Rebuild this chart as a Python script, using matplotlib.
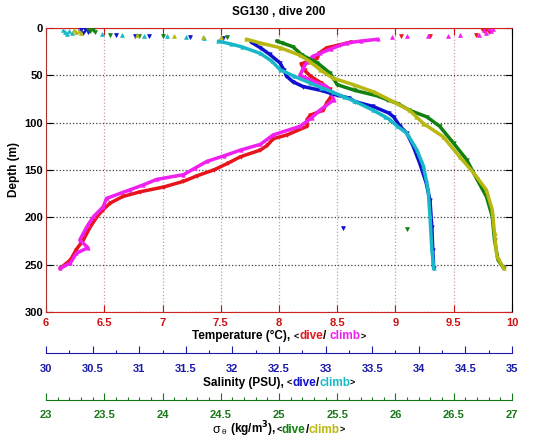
import matplotlib
matplotlib.use("Agg")
import matplotlib.pyplot as plt
from matplotlib.ticker import MultipleLocator
from matplotlib.offsetbox import TextArea, HPacker, AnchoredOffsetbox

plt.rcParams['font.family'] = ['Liberation Sans', 'DejaVu Sans']
plt.rcParams['font.weight'] = 'bold'
plt.rcParams['axes.titleweight'] = 'bold'
plt.rcParams['axes.labelweight'] = 'bold'

# temperature (degC) - dive / climb
temp_dive_depth = [15, 18, 21, 27, 32, 38, 45, 51, 58, 65, 72, 79, 87, 92, 97, 104, 113, 117, 124, 129,
                   136, 143, 150, 156, 162, 168, 173, 178, 185, 192, 199, 210, 224, 234, 245, 254]
temp_dive = [8.62, 8.52, 8.41, 8.34, 8.33, 8.19, 8.22, 8.27, 8.36, 8.44, 8.45, 8.41, 8.38, 8.27, 8.24, 8.24,
             8.07, 7.95, 7.9, 7.84, 7.67, 7.56, 7.44, 7.3, 7.18, 7.01, 6.81, 6.66, 6.55, 6.49, 6.44, 6.38,
             6.32, 6.26, 6.21, 6.12]
temp_climb_depth = [12, 14, 16, 22, 27, 30, 36, 42, 50, 55, 62, 69, 76, 87, 95, 104, 113, 123, 129, 135,
                    141, 148, 155, 160, 166, 171, 180, 189, 199, 208, 217, 224, 232, 238, 248, 254]
temp_climb = [8.85, 8.7, 8.58, 8.45, 8.35, 8.29, 8.24, 8.21, 8.18, 8.27, 8.41, 8.45, 8.47, 8.35, 8.28, 8.18,
              7.95, 7.84, 7.67, 7.53, 7.38, 7.28, 7.18, 6.95, 6.83, 6.72, 6.52, 6.49, 6.41, 6.36, 6.32, 6.29,
              6.36, 6.26, 6.21, 6.12]

# salinity (PSU)
sal_dive_depth = [15, 21, 28, 37, 44, 51, 57, 62, 66, 71, 74, 78, 83, 90, 94, 104, 111, 125, 143, 164,
                  182, 210, 234, 254]
sal_dive = [32.2, 32.3, 32.4, 32.51, 32.55, 32.58, 32.65, 32.76, 32.95, 33.12, 33.25, 33.32, 33.51, 33.68,
            33.73, 33.8, 33.87, 33.94, 34.01, 34.08, 34.12, 34.14, 34.15, 34.16]
sal_climb_depth = [14, 17, 20, 27, 35, 44, 51, 58, 63, 68, 73, 77, 87, 94, 97, 104, 111, 129, 146, 171,
                   199, 234, 254]
sal_climb = [31.85, 31.98, 32.1, 32.3, 32.42, 32.51, 32.66, 32.83, 32.95, 33.08, 33.2, 33.3, 33.51, 33.64,
             33.69, 33.77, 33.87, 33.98, 34.05, 34.1, 34.12, 34.14, 34.16]

# sigma theta (kg/m3)
sig_dive_depth = [14, 16, 20, 29, 37, 48, 60, 66, 72, 76, 80, 87, 94, 104, 122, 139, 160, 178, 199, 224,
                  245, 254]
sig_dive = [24.98, 25.03, 25.12, 25.2, 25.33, 25.44, 25.5, 25.65, 25.85, 25.93, 26.02, 26.12, 26.27, 26.38,
            26.5, 26.61, 26.7, 26.78, 26.83, 26.85, 26.88, 26.93]
sig_climb_depth = [12, 16, 21, 29, 36, 44, 53, 60, 68, 76, 87, 94, 101, 115, 136, 153, 171, 192, 217, 241, 254]
sig_climb = [24.72, 24.84, 25.01, 25.18, 25.27, 25.35, 25.46, 25.64, 25.82, 25.95, 26.12, 26.18, 26.24,
             26.41, 26.55, 26.67, 26.78, 26.83, 26.85, 26.87, 26.93]

# near-surface samples and stray points (markers only)
temp_dive_pts_depth = [1, 2, 3, 4, 8, 8.5, 9]
temp_dive_pts = [9.74, 9.78, 9.76, 9.8, 9.69, 9.3, 9.05]
temp_climb_pts_depth = [0.5, 1.5, 2.5, 3.5, 5, 8, 8, 8.5, 9, 9, 10]
temp_climb_pts = [9.8, 9.84, 9.76, 9.82, 9.78, 9.72, 9.55, 9.45, 9.28, 9.1, 8.97]
sal_dive_pts_depth = [1, 2, 3, 4, 5, 8, 9, 9, 10, 11, 211]
sal_dive_pts = [30.38, 30.42, 30.36, 30.45, 30.4, 30.75, 30.95, 31.1, 31.55, 31.9, 33.19]
sal_climb_pts_depth = [2, 3, 4, 5, 6, 7, 8, 9, 9, 10, 11]
sal_climb_pts = [30.18, 30.25, 30.2, 30.28, 30.22, 30.6, 30.82, 31.05, 31.3, 31.5, 31.7]
sig_dive_pts_depth = [1, 2, 3, 4, 8, 9, 9, 10, 212]
sig_dive_pts = [23.36, 23.4, 23.38, 23.42, 23.55, 23.8, 24.0, 24.55, 26.1]
sig_climb_pts_depth = [2, 3, 4, 5, 8, 9, 10, 10]
sig_climb_pts = [23.24, 23.28, 23.26, 23.3, 23.78, 24.1, 24.35, 24.5]

RED = '#e8141c'
MAG = '#f020f0'
BLUE = '#1010d0'
CYAN = '#18b8c8'
GREEN = '#108010'
YEL = '#b8b810'

fig = plt.figure(figsize=(5.35, 4.42), dpi=100)
ax = fig.add_axes([0.086, 0.294, 0.871, 0.643])
ax_s = ax.twiny()
ax_g = ax.twiny()


def profile(a, depth, vals, pdepth, pvals, color, marker):
    a.plot(vals, depth, color=color, lw=2.5, marker=marker, ms=2.5, mew=0.5, solid_capstyle='round')
    a.plot(pvals, pdepth, ls='none', color=color, marker=marker, ms=2.8, mew=0.5)


profile(ax, temp_dive_depth, temp_dive, temp_dive_pts_depth, temp_dive_pts, RED, 'v')
profile(ax, temp_climb_depth, temp_climb, temp_climb_pts_depth, temp_climb_pts, MAG, '^')
profile(ax_s, sal_dive_depth, sal_dive, sal_dive_pts_depth, sal_dive_pts, BLUE, 'v')
profile(ax_s, sal_climb_depth, sal_climb, sal_climb_pts_depth, sal_climb_pts, CYAN, '^')
profile(ax_g, sig_dive_depth, sig_dive, sig_dive_pts_depth, sig_dive_pts, GREEN, 'v')
profile(ax_g, sig_climb_depth, sig_climb, sig_climb_pts_depth, sig_climb_pts, YEL, '^')

# main axes: temperature / depth
ax.set_xlim(6, 10)
ax.set_ylim(300, 0)
ax.xaxis.set_major_locator(MultipleLocator(0.5))
ax.yaxis.set_major_locator(MultipleLocator(50))
ax.xaxis.set_major_formatter(plt.FuncFormatter(lambda v, p: f'{v:g}'))
ax.tick_params(axis='x', direction='in', top=True, length=5, width=0.8, pad=4.5,
               colors='#d01010', labelsize=8)
ax.tick_params(axis='y', direction='in', right=True, length=5, width=0.8, pad=2,
               colors='black', labelsize=8)
ax.grid(axis='x', color='#c8a0a0', ls=':', lw=0.9)
ax.grid(axis='y', color='#404040', ls=':', lw=0.9)
ax.set_axisbelow(True)
ax.spines['top'].set_color('#d02020')
ax.spines['bottom'].set_color('#d02020')
ax.spines['left'].set_color('#b03030')
ax.spines['right'].set_color('black')
ax.set_ylabel('Depth (m)', fontsize=8.5, labelpad=3)
ax.set_title('SG130 , dive 200', fontsize=8.5, pad=9)

# extra x axes below: salinity, sigma-theta
for a, lim, minor, offset, col, pad in [(ax_s, (30, 35), 0.25, 29.5, '#1a1aa8', 8),
                                        (ax_g, (23, 27), 0.1, 63.4, '#187818', 7)]:
    a.set_xlim(*lim)
    a.xaxis.set_ticks_position('bottom')
    a.spines['bottom'].set_position(('outward', offset))
    a.spines['bottom'].set_color(col)
    for s in ['top', 'left', 'right']:
        a.spines[s].set_visible(False)
    a.xaxis.set_major_locator(MultipleLocator(0.5))
    a.xaxis.set_minor_locator(MultipleLocator(minor))
    a.xaxis.set_major_formatter(plt.FuncFormatter(lambda v, p: f'{v:g}'))
    a.tick_params(axis='x', which='major', direction='in', length=5, width=0.8, pad=pad,
                  colors=col, labelsize=8)
    a.tick_params(axis='x', which='minor', direction='in', length=2.5, width=0.8, colors=col)

for a in [ax, ax_s, ax_g]:
    for lbl in a.get_xticklabels() + a.get_yticklabels():
        lbl.set_fontweight('bold')


def color_label(pieces, y):
    boxes = []
    for txt, col, size, wt in pieces:
        boxes.append(TextArea(txt, textprops=dict(color=col, fontsize=size, fontweight=wt)))
    pack = HPacker(children=boxes, align='baseline', pad=0, sep=0)
    box = AnchoredOffsetbox(loc='center', child=pack, pad=0, frameon=False,
                            bbox_to_anchor=(0.5215, y), bbox_transform=fig.transFigure, borderpad=0)
    fig.add_artist(box)


color_label([('Temperature (\u00b0C), ', 'black', 8.5, 'bold'), ('<', 'black', 6.5, 'bold'),
             ('dive', RED, 8.5, 'bold'), ('/ ', 'black', 8.5, 'bold'), ('climb', MAG, 8.5, 'bold'),
             ('>', 'black', 6.5, 'bold')], 0.239)
color_label([('Salinity (PSU), ', 'black', 8.5, 'bold'), ('<', 'black', 6.5, 'bold'),
             ('dive', BLUE, 8.5, 'bold'), ('/', 'black', 8.5, 'bold'), ('climb', CYAN, 8.5, 'bold'),
             ('>', 'black', 6.5, 'bold')], 0.134)
color_label([('\u03c3', 'black', 9, 'normal'), (r'$_{\mathregular{\theta}}$', 'black', 8.5, 'normal'),
             (' (kg/m$^{\\mathbf{3}}$), ', 'black', 8.5, 'bold'), ('<', 'black', 6.5, 'bold'),
             ('dive', GREEN, 8.5, 'bold'), ('/', 'black', 8.5, 'bold'), ('climb', YEL, 8.5, 'bold'),
             ('>', 'black', 6.5, 'bold')], 0.030)

fig.savefig('out.png', dpi=100, facecolor='white')
